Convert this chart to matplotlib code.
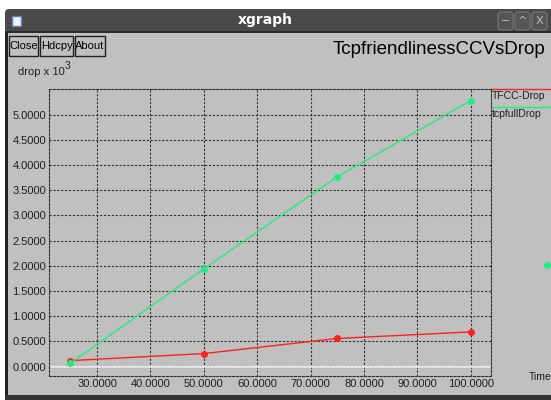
import matplotlib
matplotlib.use('Agg')
import matplotlib.pyplot as plt
from matplotlib.patches import Rectangle, FancyBboxPatch

plt.rcParams['font.family'] = ['Liberation Sans', 'DejaVu Sans']

# drop (x 10^3) per time
time = [25, 50, 75, 100]
tfcc_drop = [0.12, 0.26, 0.56, 0.69]
tcpfull_drop = [0.07, 1.94, 3.77, 5.28]
stray_x = [114.3]
stray_y = [2.02]

x_ticks = [30, 40, 50, 60, 70, 80, 90, 100]
y_ticks = [0.0, 0.5, 1.0, 1.5, 2.0, 2.5, 3.0, 3.5, 4.0, 4.5, 5.0]

W, H = 551, 400
bg = '#c0c0c0'
fig = plt.figure(figsize=(W / 100, H / 100), dpi=100)
fig.patch.set_facecolor('white')

# window chrome, drawn in pixel coordinates
win = fig.add_axes([0, 0, 1, 1])
win.set_xlim(0, W)
win.set_ylim(H, 0)
win.axis('off')
win.add_patch(Rectangle((5, 33), W - 5, 362, color=bg, lw=0))
win.add_patch(FancyBboxPatch((5, 9), W, 24, boxstyle='round,pad=0,rounding_size=4',
                             fc='#4a4a4a', ec='none'))
win.add_patch(Rectangle((5, 31), W - 5, 2, color='#2a2a2a', lw=0))
win.add_patch(Rectangle((5, 33), 3, 362, color='#222222', lw=0))
win.add_patch(Rectangle((5, 395), W - 5, 5, color='#333333', lw=0))
win.add_patch(Rectangle((12, 16), 9, 10, fc='#f0f0f0', ec='#6080c0', lw=1))
win.text(265, 20, 'xgraph', color='white', fontsize=10, fontweight='bold',
         family='DejaVu Sans', ha='center', va='center')
for bx, sym in [(498, '\u2212'), (515, '^'), (532, 'X')]:
    win.add_patch(FancyBboxPatch((bx, 12), 15, 18, boxstyle='round,pad=0,rounding_size=3',
                                 fc='#555555', ec='#777777', lw=0.8))
    win.text(bx + 7.5, 21, sym, color='#bbbbbb', fontsize=8, ha='center', va='center',
             family='DejaVu Sans')

for bx, bw, name in [(9, 29, 'Close'), (40, 33, 'Hdcpy'), (75, 30, 'About')]:
    win.add_patch(Rectangle((bx, 36), bw, 20, fc=bg, ec='#202020', lw=1))
    win.text(bx + bw / 2, 46, name, fontsize=8, ha='center', va='center', color='black')

win.text(333, 50, 'TcpfriendlinessCCVsDrop', fontsize=13.5, ha='left', va='center',
         color='black')
win.text(18, 72, 'drop x 10', fontsize=8, ha='left', va='center', color='#202020')
win.text(65, 66, '3', fontsize=7.5, ha='left', va='center', color='#202020')
win.text(529, 377, 'Time', fontsize=7.5, ha='left', va='center', color='#202020')

# legend, outside the plot frame
for ly, col, name in [(89, '#ff2020', 'TFCC-Drop'), (107, '#20ee80', 'tcpfullDrop')]:
    win.plot([491, W], [ly, ly], color=col, lw=1)
    win.text(492, ly + 7, name, fontsize=7.5, ha='left', va='center', color='#202020')

ax = fig.add_axes([49 / W, (H - 376) / H, (491 - 49) / W, (376 - 89) / H])
ax.set_facecolor(bg)
ax.set_xlim(21.0, 103.8)
ax.set_ylim(-0.185, 5.51)
ax.set_xticks(x_ticks)
ax.set_yticks(y_ticks)
ax.set_xticklabels(['%.4f' % v for v in x_ticks])
ax.set_yticklabels(['%.4f' % v for v in y_ticks])
ax.tick_params(length=0, labelsize=8, labelcolor='#202020', pad=2)
ax.grid(True, color='#303030', linestyle=(0, (2, 1.5)), lw=0.8)
for s in ax.spines.values():
    s.set_linestyle((0, (2, 1.5)))
    s.set_color('#303030')
    s.set_linewidth(0.8)
ax.axhline(0, color='#f4f4f4', lw=1.2)

ax.plot(time, tfcc_drop, color='#ff2020', lw=1, marker='o', ms=4)
ax.plot(time, tcpfull_drop, color='#20ee80', lw=1, marker='o', ms=4)
ax.plot(stray_x, stray_y, 'o', color='#20ee80', ms=4, clip_on=False)

fig.savefig('out.png', dpi=100, facecolor=fig.get_facecolor())
